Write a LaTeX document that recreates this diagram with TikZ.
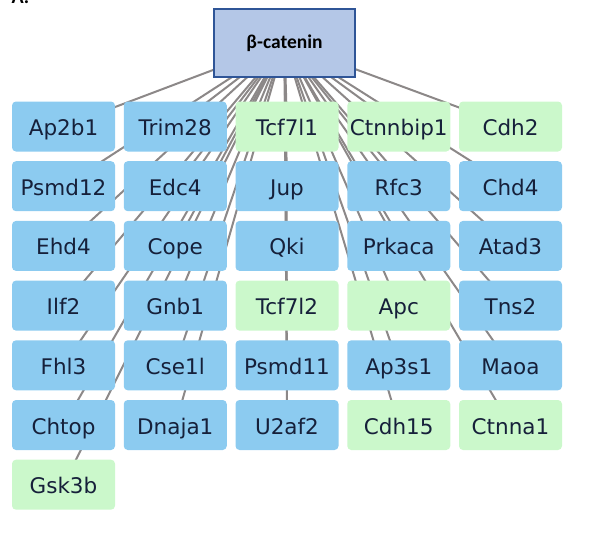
\documentclass[tikz,border=0pt]{standalone}
\usepackage{fontspec}
\usepackage{tikz}
\usetikzlibrary{backgrounds}
\newfontfamily\genefont{DejaVu Sans}
\newfontfamily\hubfont{Carlito}
\definecolor{hubfill}{HTML}{B4C7E7}
\definecolor{hubline}{HTML}{2F5597}
\definecolor{partnerblue}{HTML}{8CCBF0}
\definecolor{wntgreen}{HTML}{CBF8CB}
\definecolor{genetext}{HTML}{16203A}
\definecolor{linkgray}{HTML}{8C8888}
\tikzset{
    hub/.style={draw=hubline, fill=hubfill, line width=1.3pt, minimum width=141pt, minimum height=68pt,
        inner sep=0pt, font=\hubfont\bfseries\fontsize{19.5}{22}\selectfont},
    gene/.style={rounded corners=4pt, minimum width=103pt, minimum height=50pt, inner sep=0pt,
        text height=22pt, text depth=4pt, text=genetext, font=\genefont\fontsize{21.5}{24}\selectfont},
    partner/.style={gene, fill=partnerblue},
    wntgene/.style={gene, fill=wntgreen},
    link/.style={draw=linkgray, line width=2pt}
}

\begin{document}
\begin{tikzpicture}[x=1pt, y=-1pt]
    \useasboundingbox (0,0) rectangle (603,544);

    % ---------------- panel letter ----------------
    \node[anchor=base west, font=\hubfont\bfseries\fontsize{20}{24}\selectfont] (panel) at (8,3) {A.};

    % ---------------- hub ----------------
    \node[hub] (bcat) at (284.5,43) {β-catenin};

    % ---------------- interactors (column/row) ----------------
    \foreach \n/\t/\c/\r/\s in {
        ap2b1/Ap2b1/0/0/partner, trim28/Trim28/1/0/partner, tcf7l1/Tcf7l1/2/0/wntgene,
        ctnnbip1/Ctnnbip1/3/0/wntgene, cdh2/Cdh2/4/0/wntgene,
        psmd12/Psmd12/0/1/partner, edc4/Edc4/1/1/partner, jup/Jup/2/1/partner,
        rfc3/Rfc3/3/1/partner, chd4/Chd4/4/1/partner,
        ehd4/Ehd4/0/2/partner, cope/Cope/1/2/partner, qki/Qki/2/2/partner,
        prkaca/Prkaca/3/2/partner, atad3/Atad3/4/2/partner,
        ilf2/Ilf2/0/3/partner, gnb1/Gnb1/1/3/partner, tcf7l2/Tcf7l2/2/3/wntgene,
        apc/Apc/3/3/wntgene, tns2/Tns2/4/3/partner,
        fhl3/Fhl3/0/4/partner, cse1l/Cse1l/1/4/partner, psmd11/Psmd11/2/4/partner,
        ap3s1/Ap3s1/3/4/partner, maoa/Maoa/4/4/partner,
        chtop/Chtop/0/5/partner, dnaja1/Dnaja1/1/5/partner, u2af2/U2af2/2/5/partner,
        cdh15/Cdh15/3/5/wntgene, ctnna1/Ctnna1/4/5/wntgene,
        gsk3b/Gsk3b/0/6/wntgene}
        \node[\s] (\n) at ({63.5+111.75*\c},{126.5+59.7*\r}) {\t};

    % ---------------- links, behind the boxes ----------------
    \begin{pgfonlayer}{background}
        \foreach \n in {ap2b1,trim28,tcf7l1,ctnnbip1,cdh2,psmd12,edc4,jup,rfc3,chd4,
                        ehd4,cope,qki,prkaca,atad3,ilf2,gnb1,tcf7l2,apc,tns2,
                        fhl3,cse1l,psmd11,ap3s1,maoa,chtop,dnaja1,u2af2,cdh15,ctnna1,gsk3b}
            \draw[link] (bcat.center) -- (\n.center);
    \end{pgfonlayer}
\end{tikzpicture}
\end{document}
